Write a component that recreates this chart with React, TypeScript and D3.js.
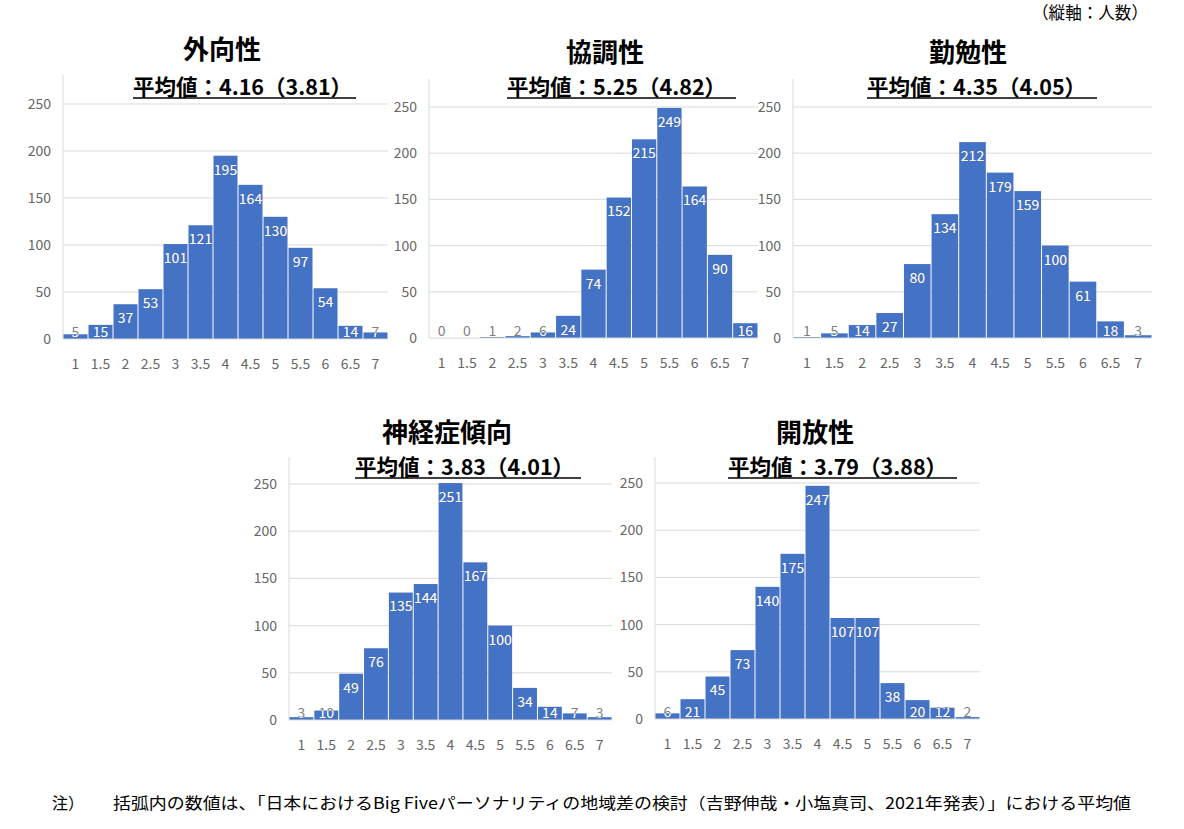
import React from "react";
import * as d3 from "d3";

const categories = ["1", "1.5", "2", "2.5", "3", "3.5", "4", "4.5", "5", "5.5", "6", "6.5", "7"];
const yTicks = [0, 50, 100, 150, 200, 250];

const traitNames = ["外向性", "協調性", "勤勉性", "神経症傾向", "開放性"];
const means = ["4.16", "5.25", "4.35", "3.83", "3.79"];
const refMeans = ["3.81", "4.82", "4.05", "4.01", "3.88"];

const extraversion = [5, 15, 37, 53, 101, 121, 195, 164, 130, 97, 54, 14, 7];
const agreeableness = [0, 0, 1, 2, 6, 24, 74, 152, 215, 249, 164, 90, 16];
const conscientiousness = [1, 5, 14, 27, 80, 134, 212, 179, 159, 100, 61, 18, 3];
const neuroticism = [3, 10, 49, 76, 135, 144, 251, 167, 100, 34, 14, 7, 3];
const openness = [6, 21, 45, 73, 140, 175, 247, 107, 107, 38, 20, 12, 2];

const seriesList = [extraversion, agreeableness, conscientiousness, neuroticism, openness];

const unitNote = "（縦軸：人数）";
const footLabel = "注）";
const footText = "括弧内の数値は、「日本におけるBig Fiveパーソナリティの地域差の検討（吉野伸哉・小塩真司、2021年発表）」における平均値";

const FONT = "'Noto Sans CJK JP', 'Noto Sans', sans-serif";
const BAR = "#4472C4";
const GRID = "#d9d9d9";
const TICK = "#666666";

type Layout = {
  x0: number; x1: number; yTop: number; yZero: number; y250: number;
  titleX: number; titleY: number; subX: number; subEnd: number; subY: number;
};

const layouts: Layout[] = [
  { x0: 63, x1: 388, yTop: 75, yZero: 339, y250: 104, titleX: 222, titleY: 59, subX: 133, subEnd: 356, subY: 95 },
  { x0: 429, x1: 758, yTop: 79, yZero: 338, y250: 107, titleX: 605, titleY: 62, subX: 507, subEnd: 736, subY: 95 },
  { x0: 793, x1: 1152, yTop: 79, yZero: 338, y250: 107, titleX: 968, titleY: 62, subX: 867, subEnd: 1097, subY: 95 },
  { x0: 289, x1: 612, yTop: 457, yZero: 720, y250: 484, titleX: 447, titleY: 442, subX: 355, subEnd: 581, subY: 475 },
  { x0: 655, x1: 980, yTop: 457, yZero: 719, y250: 483, titleX: 815, titleY: 442, subX: 728, subEnd: 957, subY: 475 },
];

function Chart({ idx }: { idx: number }) {
  const L = layouts[idx];
  const data = seriesList[idx];
  const x = d3.scaleBand<string>().domain(categories).range([L.x0, L.x1]).padding(0);
  const y = d3.scaleLinear().domain([0, 250]).range([L.yZero, L.y250]);
  const bw = x.bandwidth();
  return (
    <g>
      <text x={L.titleX} y={L.titleY} textAnchor="middle" fontFamily={FONT} fontWeight="bold" fontSize={26} fill="#000">
        {traitNames[idx]}
      </text>
      <text x={L.subX} y={L.subY} fontFamily={FONT} fontWeight="bold" fontSize={21.5} fill="#000">
        {`平均値：${means[idx]}（${refMeans[idx]}）`}
      </text>
      <line x1={L.subX} x2={L.subEnd} y1={L.subY + 3} y2={L.subY + 3} stroke="#000" strokeWidth={1.5} />
      {yTicks.map((t) => (
        <g key={t}>
          {t > 0 && <line x1={L.x0} x2={L.x1} y1={y(t)} y2={y(t)} stroke={GRID} strokeWidth={1} />}
          <text x={L.x0 - 12} y={y(t)} dy="0.35em" textAnchor="end" fontFamily={FONT} fontSize={14} fill={TICK}>
            {t}
          </text>
        </g>
      ))}
      <line x1={L.x0} x2={L.x0} y1={L.yTop} y2={L.yZero} stroke={GRID} strokeWidth={1} />
      <defs>
        {data.map((v, i) => (
          <clipPath id={`clip-${idx}-${i}`} key={i}>
            <rect x={(x(categories[i]) as number) + 0.5} y={y(v)} width={bw - 1} height={Math.max(0, L.yZero - y(v))} />
          </clipPath>
        ))}
      </defs>
      {data.map((v, i) => (
        <rect key={i} x={(x(categories[i]) as number) + 0.5} y={y(v)} width={bw - 1} height={Math.max(0, L.yZero - y(v))} fill={BAR} />
      ))}
      <line x1={L.x0} x2={L.x1} y1={L.yZero} y2={L.yZero} stroke={GRID} strokeWidth={1} />
      {data.map((v, i) => {
        const cx = (x(categories[i]) as number) + bw / 2;
        const cy = Math.min(y(v) + 14, L.yZero - 7);
        return (
          <g key={i}>
            <text x={cx} y={cy} dy="0.35em" textAnchor="middle" fontFamily={FONT} fontSize={14} fill="#7f7f7f">{v}</text>
            <text x={cx} y={cy} dy="0.35em" textAnchor="middle" fontFamily={FONT} fontSize={14} fill="#fff" clipPath={`url(#clip-${idx}-${i})`}>{v}</text>
          </g>
        );
      })}
      {categories.map((c) => (
        <text key={c} x={(x(c) as number) + bw / 2} y={L.yZero + 25} dy="0.35em" textAnchor="middle" fontFamily={FONT} fontSize={14} fill={TICK}>
          {c}
        </text>
      ))}
    </g>
  );
}

export default function App() {
  return (
    <svg width={1184} height={829} style={{ position: "absolute", left: 0, top: 0, background: "#fff" }}>
      <rect x={0} y={0} width={1184} height={829} fill="#fff" />
      <text x={1032} y={19} fontFamily={FONT} fontSize={17} fill="#000" textLength={116} lengthAdjust="spacingAndGlyphs">{unitNote}</text>
      {layouts.map((_, i) => <Chart key={i} idx={i} />)}
      <text x={52} y={809} fontFamily={FONT} fontSize={16} fill="#000">{footLabel}</text>
      <text x={113} y={809} fontFamily={FONT} fontSize={16} fill="#000" textLength={1018} lengthAdjust="spacingAndGlyphs">{footText}</text>
    </svg>
  );
}
